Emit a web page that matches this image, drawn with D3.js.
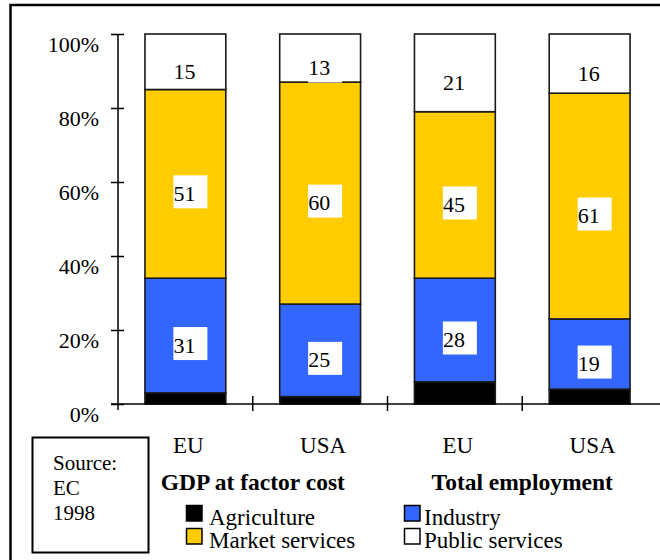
<!DOCTYPE html>
<html>
<head>
<meta charset="utf-8">
<script src="https://cdn.jsdelivr.net/npm/d3@7"></script>
<style>
  html, body { margin: 0; padding: 0; background: #fff; }
  svg { display: block; }
  svg text { font-family: "Liberation Serif", Tinos, "Times New Roman", Times, "Nimbus Roman", "DejaVu Serif", serif; }
</style>
</head>
<body>
<svg id="chart" width="660" height="560"></svg>
<script>
// Sector shares (%) of GDP at factor cost and of total employment, EU vs USA
const columns = ["gdpEU", "gdpUSA", "empEU", "empUSA"];
const columnLabels = ["EU", "USA", "EU", "USA"];
const groupTitles = ["GDP at factor cost", "Total employment"];

const agriculture    = [3, 2, 6, 4];
const industry       = [31, 25, 28, 19];
const marketServices = [51, 60, 45, 61];
const publicServices = [15, 13, 21, 16];

const sectorKeys   = ["agriculture", "industry", "market", "public"];
const sectorNames  = ["Agriculture", "Industry", "Market services", "Public services"];
const sectorColors = ["#000000", "#3366FF", "#FFCC00", "#FFFFFF"];
const yTicks = [0, 20, 40, 60, 80, 100];
const sourceLines = ["Source:", "EC", "1998"];

const SERIF = "'Liberation Serif', Tinos, 'Times New Roman', Times, 'Nimbus Roman', 'DejaVu Serif', serif";

const rows = columns.map((c, i) => ({
  col: c,
  agriculture: agriculture[i],
  industry: industry[i],
  market: marketServices[i],
  public: publicServices[i]
}));

const svg = d3.select("#chart").attr("font-family", SERIF);

// outer frame
svg.append("rect")
  .attr("x", 10.5).attr("y", 5)
  .attr("width", 720).attr("height", 620)
  .attr("fill", "none").attr("stroke", "#000").attr("stroke-width", 2.5);

const y = d3.scaleLinear().domain([0, 100]).range([404, 34]);
const x = d3.scaleBand().domain(columns).range([118, 657])
  .paddingInner(0.4).paddingOuter(0.2);
const color = d3.scaleOrdinal().domain(sectorKeys).range(sectorColors);

const stacked = d3.stack().keys(sectorKeys)(rows);

// bars
const layers = svg.append("g").selectAll("g")
  .data(stacked).join("g")
  .attr("fill", d => color(d.key));

layers.selectAll("rect")
  .data(d => d.map(s => ({ s, key: d.key })))
  .join("rect")
  .attr("x", d => x(d.s.data.col))
  .attr("width", x.bandwidth())
  .attr("y", d => y(d.s[1]))
  .attr("height", d => y(d.s[0]) - y(d.s[1]))
  .attr("stroke", "#1a1a1a")
  .attr("stroke-width", 1.6);

// y axis
const yAxis = svg.append("g")
  .attr("transform", "translate(118,0)")
  .call(d3.axisLeft(y).tickValues(yTicks).tickFormat(d => d + "%").tickSize(7).tickPadding(12));
yAxis.attr("font-family", SERIF).attr("font-size", 22);
yAxis.select(".domain").remove();
yAxis.append("line")
  .attr("x1", 0).attr("x2", 0).attr("y1", y(100)).attr("y2", 410)
  .attr("stroke", "#000").attr("stroke-width", 1.5);
yAxis.selectAll(".tick line").attr("x1", -7).attr("x2", 6)
  .attr("stroke", "#000").attr("stroke-width", 1.5);
yAxis.selectAll(".tick text")
  .attr("dy", "17px")
  .attr("fill", "#000")
  .style("font-size", "22px");

// x axis baseline and category dividers
svg.append("line")
  .attr("x1", 111).attr("x2", 660).attr("y1", y(0)).attr("y2", y(0))
  .attr("stroke", "#000").attr("stroke-width", 1.5);
const dividers = columns.slice(1).map(c => x(c) - x.step() * x.paddingInner() / 2);
svg.append("g").selectAll("line")
  .data(dividers).join("line")
  .attr("x1", d => d).attr("x2", d => d)
  .attr("y1", y(0) - 8).attr("y2", y(0) + 7)
  .attr("stroke", "#000").attr("stroke-width", 1.5);

// value labels on industry, market and public segments
const labelled = stacked.filter(l => l.key !== "agriculture");
const labels = svg.append("g").selectAll("g")
  .data(labelled.flatMap(l => l.map(s => ({ s, key: l.key, v: s[1] - s[0] }))))
  .join("g")
  .attr("transform", d => {
    const cx = x(d.s.data.col) + x.bandwidth() / 2;
    const cy = y((d.s[0] + d.s[1]) / 2);
    return `translate(${cx},${cy})`;
  });
labels.append("rect")
  .attr("x", -12).attr("y", -8.5)
  .attr("width", 34).attr("height", 33)
  .attr("fill", "#fff");
labels.append("text")
  .attr("x", -1).attr("y", 17)
  .attr("text-anchor", "middle")
  .style("font-size", "22px")
  .attr("fill", "#000")
  .text(d => d.v);

// column labels
svg.append("g").selectAll("text")
  .data(columns).join("text")
  .attr("x", c => x(c) + x.bandwidth() / 2 + 3)
  .attr("y", 453)
  .attr("text-anchor", "middle")
  .style("font-size", "23px")
  .text((c, i) => columnLabels[i]);

// group titles
const groupCenters = [dividers[0], dividers[2]];
svg.append("g").selectAll("text")
  .data(groupTitles).join("text")
  .attr("x", (t, i) => groupCenters[i])
  .attr("y", 490)
  .attr("text-anchor", "middle")
  .style("font-size", "23.5px")
  .style("font-weight", "bold")
  .text(t => t);

// source box
svg.append("rect")
  .attr("x", 32.5).attr("y", 437.5)
  .attr("width", 116).attr("height", 115)
  .attr("fill", "#fff").attr("stroke", "#000").attr("stroke-width", 2);
svg.append("g").selectAll("text")
  .data(sourceLines).join("text")
  .attr("x", 53).attr("y", (t, i) => 470 + i * 25)
  .style("font-size", "21px")
  .text(t => t);

// legend: two columns, two rows
const legendPos = [
  { col: 0, row: 0 }, { col: 1, row: 0 },
  { col: 0, row: 1 }, { col: 1, row: 1 }
];
const legendX = [186, 404];
const legend = svg.append("g").selectAll("g")
  .data(sectorKeys).join("g")
  .attr("transform", (k, i) => `translate(${legendX[legendPos[i].col]},${505 + legendPos[i].row * 23})`);
legend.append("rect")
  .attr("x", 0.5).attr("y", 0.5)
  .attr("width", 15.5).attr("height", 15.5)
  .attr("fill", k => color(k))
  .attr("stroke", "#000").attr("stroke-width", 1.5);
legend.append("text")
  .attr("x", (k, i) => legendPos[i].col === 0 ? 23 : 20)
  .attr("y", 20)
  .style("font-size", "23px")
  .text((k, i) => sectorNames[i]);
</script>
</body>
</html>
